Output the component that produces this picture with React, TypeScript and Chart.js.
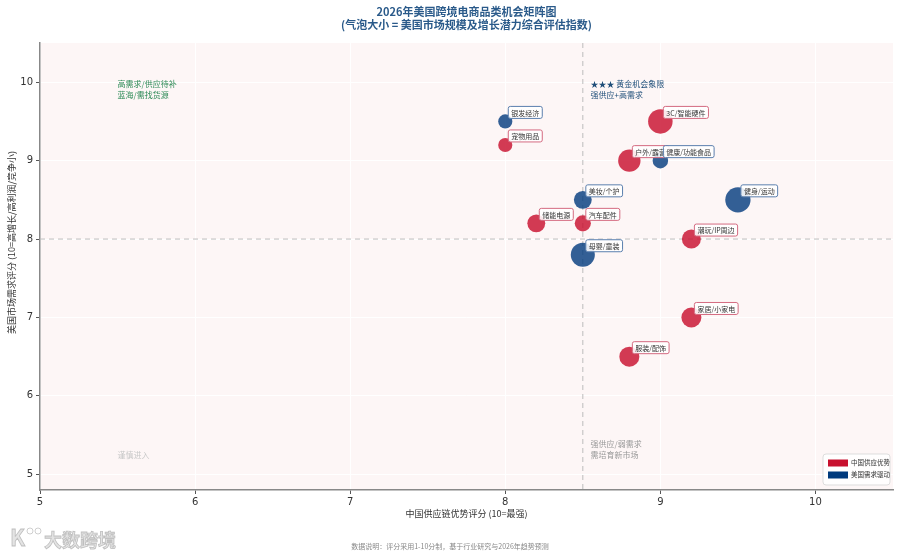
import { Chart, registerables } from "chart.js";
import { useEffect, useRef } from "react";

Chart.register(...registerables);

// category data
const categoryNames = [
  "银发经济",
  "宠物用品",
  "3C/智能硬件",
  "户外/露营",
  "健康/功能食品",
  "美妆/个护",
  "健身/运动",
  "储能电源",
  "汽车配件",
  "潮玩/IP周边",
  "母婴/童装",
  "家居/小家电",
  "服装/配饰",
];
const supplyScores = [8, 8, 9, 8.8, 9, 8.5, 9.5, 8.2, 8.5, 9.2, 8.5, 9.2, 8.8];
const demandScores = [9.5, 9.2, 9.5, 9.0, 9.0, 8.5, 8.5, 8.2, 8.2, 8.0, 7.8, 7.0, 6.5];
const marketSizes = [50, 50, 150, 125, 60, 80, 160, 80, 65, 90, 145, 100, 100];
const groups = ["us", "cn", "cn", "cn", "us", "us", "us", "cn", "cn", "cn", "us", "cn", "cn"];

const groupKeys = ["cn", "us"];
const groupLabels = ["中国供应优势", "美国需求驱动"];
const groupColors = ["#c8102e", "#003a7d"];
const groupFills = ["rgba(200,16,46,0.82)", "rgba(0,58,125,0.8)"];

const xTickValues = [5, 6, 7, 8, 9, 10];
const yTickValues = [5, 6, 7, 8, 9, 10];
const supplyThreshold = 8.5;
const demandThreshold = 8;

const titleLines = [
  "2026年美国跨境电商品类机会矩阵图",
  "(气泡大小 = 美国市场规模及增长潜力综合评估指数)",
];
const xTitle = "中国供应链优势评分 (10=最强)";
const yTitle = "美国市场需求评分 (10=高增长/高利润/竞争小)";
const footnote = "数据说明：评分采用1-10分制，基于行业研究与2026年趋势预测";

const CJK = "'Noto Sans CJK SC', 'DejaVu Sans', sans-serif";

const App = () => {
  const canvasRef = useRef<HTMLCanvasElement | null>(null);
  const chartRef = useRef<Chart | null>(null);

  useEffect(() => {
    document.body.style.margin = "0";
    if (chartRef.current) chartRef.current.destroy();
    if (!canvasRef.current) return;

    const datasets = groupKeys.map((key, gi) => {
      const idx = groups.map((g, i) => (g === key ? i : -1)).filter((i) => i >= 0);
      const sizes = idx.map((i) => marketSizes[i]);
      return {
        label: groupLabels[gi],
        data: idx.map((i) => ({ x: supplyScores[i], y: demandScores[i] })),
        names: idx.map((i) => categoryNames[i]),
        backgroundColor: groupFills[gi],
        borderColor: groupFills[gi],
        borderWidth: 0,
        pointRadius: (ctx: any) => Math.sqrt(sizes[ctx.dataIndex] || 0),
        pointHoverRadius: (ctx: any) => Math.sqrt(sizes[ctx.dataIndex] || 0),
      };
    });

    const decor = {
      id: "decor",
      beforeDraw(chart: any) {
        const { ctx, chartArea: a } = chart;
        ctx.save();
        ctx.fillStyle = "#fdf6f6";
        ctx.fillRect(a.left, a.top, a.right - a.left, a.bottom - a.top);
        ctx.restore();
      },
      beforeDatasetsDraw(chart: any) {
        const { ctx, chartArea: a, scales } = chart;
        const xp = scales.x.getPixelForValue(supplyThreshold);
        const yp = scales.y.getPixelForValue(demandThreshold);
        ctx.save();
        ctx.strokeStyle = "#bdbdbd";
        ctx.lineWidth = 1;
        ctx.setLineDash([5, 4]);
        ctx.beginPath();
        ctx.moveTo(xp, a.top);
        ctx.lineTo(xp, a.bottom);
        ctx.moveTo(a.left, yp);
        ctx.lineTo(a.right, yp);
        ctx.stroke();
        ctx.restore();
      },
      afterDatasetsDraw(chart: any) {
        const { ctx } = chart;
        ctx.save();
        ctx.font = `7px ${CJK}`;
        ctx.textBaseline = "middle";
        chart.data.datasets.forEach((ds: any, di: number) => {
          const meta = chart.getDatasetMeta(di);
          meta.data.forEach((el: any, i: number) => {
            const text = ds.names[i];
            const w = ctx.measureText(text).width + 6;
            const left = el.x + 3;
            const top = el.y - 15;
            ctx.beginPath();
            ctx.roundRect(left, top, w, 12, 2);
            ctx.fillStyle = "rgba(255,255,255,0.88)";
            ctx.fill();
            ctx.lineWidth = 1;
            ctx.strokeStyle = di === 0 ? "#d46a80" : "#5b7fae";
            ctx.stroke();
            ctx.fillStyle = "#333";
            ctx.fillText(text, left + 3, top + 6.5);
          });
        });
        ctx.restore();
      },
      afterDraw(chart: any) {
        const { ctx, chartArea: a, scales } = chart;
        const cx = (a.left + a.right) / 2;
        ctx.save();
        // title
        ctx.textAlign = "center";
        ctx.textBaseline = "middle";
        ctx.fillStyle = "#2a5a8a";
        ctx.font = `bold 11px ${CJK}`;
        ctx.fillText(titleLines[0], cx, 12);
        ctx.fillText(titleLines[1], cx, 25);
        // axis titles
        ctx.fillStyle = "#333";
        ctx.font = `9px ${CJK}`;
        ctx.fillText(xTitle, cx, 514);
        ctx.save();
        ctx.translate(12, (a.top + a.bottom) / 2 - 24);
        ctx.rotate(-Math.PI / 2);
        ctx.fillText(yTitle, 0, 0);
        ctx.restore();
        // quadrant notes
        ctx.textAlign = "left";
        ctx.font = `8px ${CJK}`;
        const x55 = scales.x.getPixelForValue(5.5);
        const x855 = scales.x.getPixelForValue(8.55);
        ctx.fillStyle = "#2e8b57";
        ctx.fillText("高需求/供应待补", x55, 84);
        ctx.fillText("蓝海/需找货源", x55, 95);
        ctx.fillStyle = "#1f4e79";
        ctx.fillText("★★★ 黄金机会象限", x855, 84);
        ctx.fillText("强供应+高需求", x855, 95);
        ctx.fillStyle = "#c8c8c8";
        ctx.fillText("谨慎进入", x55, 455);
        ctx.fillStyle = "#999";
        ctx.fillText("强供应/弱需求", x855, 444);
        ctx.fillText("需培育新市场", x855, 455);
        // legend
        const lx = a.right - 70;
        const ly = a.bottom - 36;
        ctx.beginPath();
        ctx.roundRect(lx, ly, 67, 31, 3);
        ctx.fillStyle = "rgba(255,255,255,0.9)";
        ctx.fill();
        ctx.strokeStyle = "#dddddd";
        ctx.lineWidth = 1;
        ctx.stroke();
        groupLabels.forEach((label, gi) => {
          const y = ly + 9 + gi * 12;
          ctx.fillStyle = groupColors[gi];
          ctx.fillRect(lx + 5, y - 3.5, 20, 7);
          ctx.fillStyle = "#333";
          ctx.font = `6.5px ${CJK}`;
          ctx.fillText(label, lx + 28, y);
        });
        // footnote
        ctx.textAlign = "center";
        ctx.fillStyle = "#888";
        ctx.font = `7px ${CJK}`;
        ctx.fillText(footnote, 450, 546);
        // watermark
        ctx.textAlign = "left";
        ctx.font = `bold 18px ${CJK}`;
        ctx.fillStyle = "rgba(225,225,225,0.9)";
        ctx.strokeStyle = "rgba(170,170,170,0.7)";
        ctx.lineWidth = 0.8;
        ctx.fillText("大数跨境", 44, 540);
        ctx.strokeText("大数跨境", 44, 540);
        ctx.font = `bold 22px ${CJK}`;
        ctx.fillText("K", 10, 538);
        ctx.strokeText("K", 10, 538);
        ctx.beginPath();
        ctx.arc(30, 531, 3, 0, Math.PI * 2);
        ctx.moveTo(41, 531);
        ctx.arc(38, 531, 3, 0, Math.PI * 2);
        ctx.stroke();
        ctx.restore();
      },
    };

    chartRef.current = new Chart(canvasRef.current, {
      type: "scatter",
      data: { datasets: datasets as any },
      options: {
        animation: false,
        responsive: false,
        events: [],
        layout: { autoPadding: false, padding: { top: 43, right: 7, left: 0, bottom: 0 } },
        plugins: {
          legend: { display: false },
          title: { display: false },
          tooltip: { enabled: false },
        },
        scales: {
          x: {
            type: "linear",
            min: 5,
            max: 10.5,
            afterBuildTicks: (s: any) => {
              s.ticks = xTickValues.map((v) => ({ value: v }));
            },
            afterFit: (s: any) => {
              s.height = 66;
              s.paddingLeft = 0;
              s.paddingRight = 0;
            },
            grid: { color: "#ffffff", tickColor: "#555", tickLength: 4, lineWidth: 1 },
            border: { color: "#888", width: 1.5 },
            ticks: { color: "#333", padding: 2, font: { family: "DejaVu Sans", size: 10 } },
          },
          y: {
            type: "linear",
            min: 4.8,
            max: 10.5,
            afterBuildTicks: (s: any) => {
              s.ticks = yTickValues.map((v) => ({ value: v }));
            },
            afterFit: (s: any) => {
              s.width = 40;
              s.paddingTop = 0;
              s.paddingBottom = 0;
            },
            grid: { color: "#ffffff", tickColor: "#555", tickLength: 4, lineWidth: 1 },
            border: { color: "#888", width: 1.5 },
            ticks: { color: "#333", padding: 3, font: { family: "DejaVu Sans", size: 10 } },
          },
        },
      },
      plugins: [decor],
    });

    return () => {
      if (chartRef.current) {
        chartRef.current.destroy();
        chartRef.current = null;
      }
    };
  }, []);

  return (
    <div style={{ width: 900, height: 556, background: "#ffffff" }}>
      <canvas ref={canvasRef} width={900} height={556} />
    </div>
  );
};

export default App;
